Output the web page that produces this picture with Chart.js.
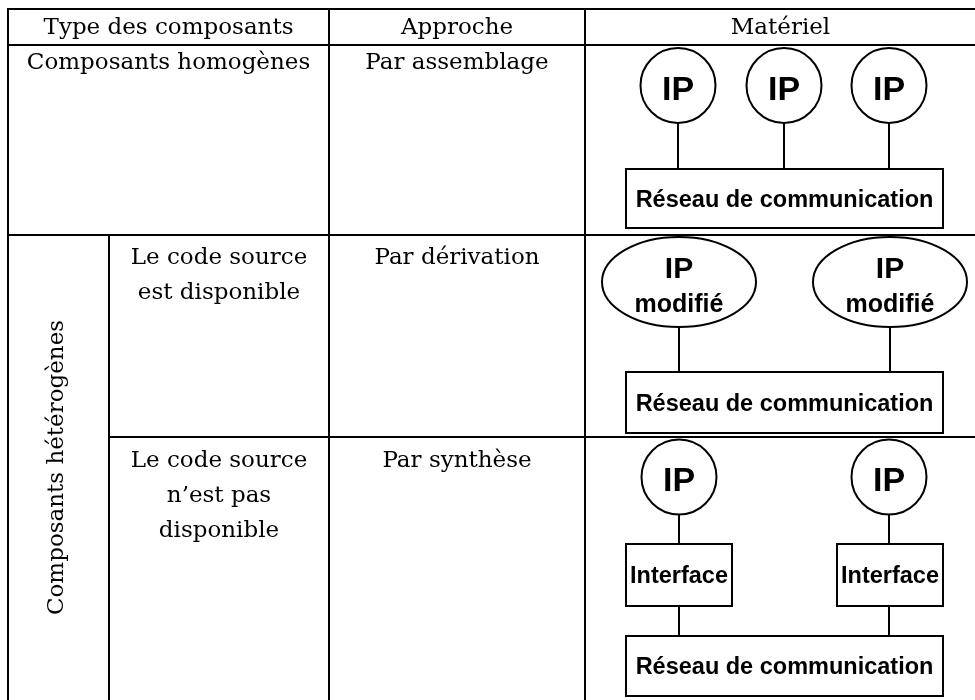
<!DOCTYPE html>
<html><head><meta charset="utf-8">
<script src="https://cdn.jsdelivr.net/npm/chart.js@4"></script>
<style>html,body{margin:0;padding:0;background:#fff}canvas{display:block}</style>
</head><body>
<canvas id="c" width="975" height="700"></canvas>
<script>
// ---------- content (texts) ----------
const headers = ['Type des composants', 'Approche', 'Matériel'];
const typeLabels = ['Composants homogènes', 'Composants hétérogènes'];
const sourceLabels = [['Le code source', 'est disponible'], ['Le code source', 'n’est pas', 'disponible']];
const approaches = ['Par assemblage', 'Par dérivation', 'Par synthèse'];
const ipLabel = 'IP';
const ipModLabel = ['IP', 'modifié'];
const networkLabel = 'Réseau de communication';
const interfaceLabel = 'Interface';

// ---------- layout (diagram coordinates, same units as the hidden scales) ----------
const colX = [8, 109, 329, 585, 976];
const rowY = [9, 45, 235, 437, 701];
const ipRow1 = [678, 784, 889];
const ipRow3 = [679, 889];
const modRow2 = [679, 890];
const netBox = {x0: 626, x1: 943};
const netBoxY = [[169, 228], [372, 433], [636, 696]];
const ifaceBoxX = [[626, 732], [837, 943]];
const ifaceBoxY = [544, 606];

const SERIF = '"DejaVu Serif", serif';
const SANS = '"Liberation Sans", Arial, sans-serif';
const SERIF_SIZE = '23px ';

function seg(a, b, order) {
  return {type: 'line', data: [a, b], borderColor: '#000', borderWidth: 2, pointRadius: 0,
    borderCapStyle: 'square', fill: false, order: order || 5, showLine: true};
}
function rect(x0, y0, x1, y1) {
  return {type: 'line', data: [{x:x0,y:y0},{x:x1,y:y0},{x:x1,y:y1},{x:x0,y:y1},{x:x0,y:y0}],
    borderColor: '#000', borderWidth: 2, pointRadius: 0, borderJoinStyle: 'miter',
    borderCapStyle: 'square', fill: false, order: 3, showLine: true, tension: 0};
}

const datasets = [];
// table grid
[rowY[0], rowY[1], rowY[2]].forEach(y => datasets.push(seg({x: colX[0], y}, {x: colX[4], y})));
datasets.push(seg({x: colX[1], y: rowY[3]}, {x: colX[4], y: rowY[3]}));
[colX[0], colX[2], colX[3], colX[4]].forEach(x => datasets.push(seg({x, y: rowY[0]}, {x, y: rowY[4]})));
datasets.push(seg({x: colX[1], y: rowY[2]}, {x: colX[1], y: rowY[4]}));

// connectors
ipRow1.forEach(x => datasets.push(seg({x, y: 124}, {x, y: netBoxY[0][0]}, 4)));
modRow2.forEach(x => datasets.push(seg({x, y: 327}, {x, y: netBoxY[1][0]}, 4)));
ipRow3.forEach(x => {
  datasets.push(seg({x, y: 514}, {x, y: ifaceBoxY[0]}, 4));
  datasets.push(seg({x, y: ifaceBoxY[1]}, {x, y: netBoxY[2][0]}, 4));
});
// boxes
netBoxY.forEach(([y0, y1]) => datasets.push(rect(netBox.x0, y0, netBox.x1, y1)));
ifaceBoxX.forEach(([x0, x1]) => datasets.push(rect(x0, ifaceBoxY[0], x1, ifaceBoxY[1])));

// IP circles
datasets.push({type: 'scatter', data: ipRow1.map(x => ({x, y: 85.5})).concat(ipRow3.map(x => ({x, y: 477}))),
  pointRadius: 37.5, pointHoverRadius: 37.5, pointBorderWidth: 2, pointBackgroundColor: '#fff',
  pointBorderColor: '#000', showLine: false, order: 1});

const ellipses = modRow2.map(x => ({x, y: 282, rx: 77, ry: 45}));

const texts = [];
headers.forEach((t, i) => {
  const cx = i === 0 ? (colX[0] + colX[2]) / 2 : i === 1 ? (colX[2] + colX[3]) / 2 : (colX[3] + colX[4]) / 2;
  texts.push({t, x: cx, y: 34, f: SERIF_SIZE + SERIF});
});
texts.push({t: typeLabels[0], x: (colX[0] + colX[2]) / 2, y: 69, f: SERIF_SIZE + SERIF});
texts.push({t: approaches[0], x: (colX[2] + colX[3]) / 2, y: 69, f: SERIF_SIZE + SERIF});
sourceLabels[0].forEach((t, i) => texts.push({t, x: (colX[1] + colX[2]) / 2, y: 264 + 35 * i, f: SERIF_SIZE + SERIF}));
sourceLabels[1].forEach((t, i) => texts.push({t, x: (colX[1] + colX[2]) / 2, y: 467 + 35 * i, f: SERIF_SIZE + SERIF}));
texts.push({t: approaches[1], x: (colX[2] + colX[3]) / 2, y: 264, f: SERIF_SIZE + SERIF});
texts.push({t: approaches[2], x: (colX[2] + colX[3]) / 2, y: 467, f: SERIF_SIZE + SERIF});
texts.push({t: typeLabels[1], x: 57, y: (rowY[2] + 700) / 2, f: SERIF_SIZE + SERIF, rot: true});
ipRow1.forEach(x => texts.push({t: ipLabel, x, y: 100, f: 'bold 34px ' + SANS}));
ipRow3.forEach(x => texts.push({t: ipLabel, x, y: 491, f: 'bold 34px ' + SANS}));
modRow2.forEach(x => {
  texts.push({t: ipModLabel[0], x, y: 278, f: 'bold 30px ' + SANS});
  texts.push({t: ipModLabel[1], x, y: 312, f: 'bold 25px ' + SANS});
});
netBoxY.forEach(([y0, y1]) => texts.push({t: networkLabel, x: (netBox.x0 + netBox.x1) / 2, y: (y0 + y1) / 2 + 8, f: 'bold 23.5px ' + SANS}));
ifaceBoxX.forEach(([x0, x1]) => texts.push({t: interfaceLabel, x: (x0 + x1) / 2, y: (ifaceBoxY[0] + ifaceBoxY[1]) / 2 + 8, f: 'bold 23.5px ' + SANS}));

const diagramPlugin = {
  id: 'diagram',
  afterDatasetsDraw(chart) {
    const ctx = chart.ctx, sx = chart.scales.x, sy = chart.scales.y;
    ctx.save();
    ctx.lineWidth = 2; ctx.strokeStyle = '#000'; ctx.fillStyle = '#fff';
    ellipses.forEach(e => {
      const cx = sx.getPixelForValue(e.x), cy = sy.getPixelForValue(e.y);
      const rx = Math.abs(sx.getPixelForValue(e.x + e.rx) - cx), ry = Math.abs(sy.getPixelForValue(e.y + e.ry) - cy);
      ctx.beginPath(); ctx.ellipse(cx, cy, rx, ry, 0, 0, Math.PI * 2); ctx.fill(); ctx.stroke();
    });
    ctx.fillStyle = '#000'; ctx.textAlign = 'center';
    texts.forEach(o => {
      ctx.font = o.f;
      const x = sx.getPixelForValue(o.x), y = sy.getPixelForValue(o.y);
      if (o.rot) {
        ctx.save(); ctx.translate(x, y); ctx.rotate(-Math.PI / 2);
        ctx.textBaseline = 'middle'; ctx.fillText(o.t, 0, 0); ctx.restore();
      } else {
        ctx.textBaseline = 'alphabetic'; ctx.fillText(o.t, x, y);
      }
    });
    ctx.restore();
  }
};

new Chart(document.getElementById('c'), {
  type: 'scatter',
  data: {datasets},
  options: {
    responsive: false, animation: false, events: [],
    layout: {padding: 0, autoPadding: false},
    plugins: {legend: {display: false}, tooltip: {enabled: false}},
    scales: {
      x: {type: 'linear', min: 0, max: 975, display: false},
      y: {type: 'linear', min: 0, max: 700, reverse: true, display: false}
    }
  },
  plugins: [diagramPlugin]
});
</script>
</body></html>
